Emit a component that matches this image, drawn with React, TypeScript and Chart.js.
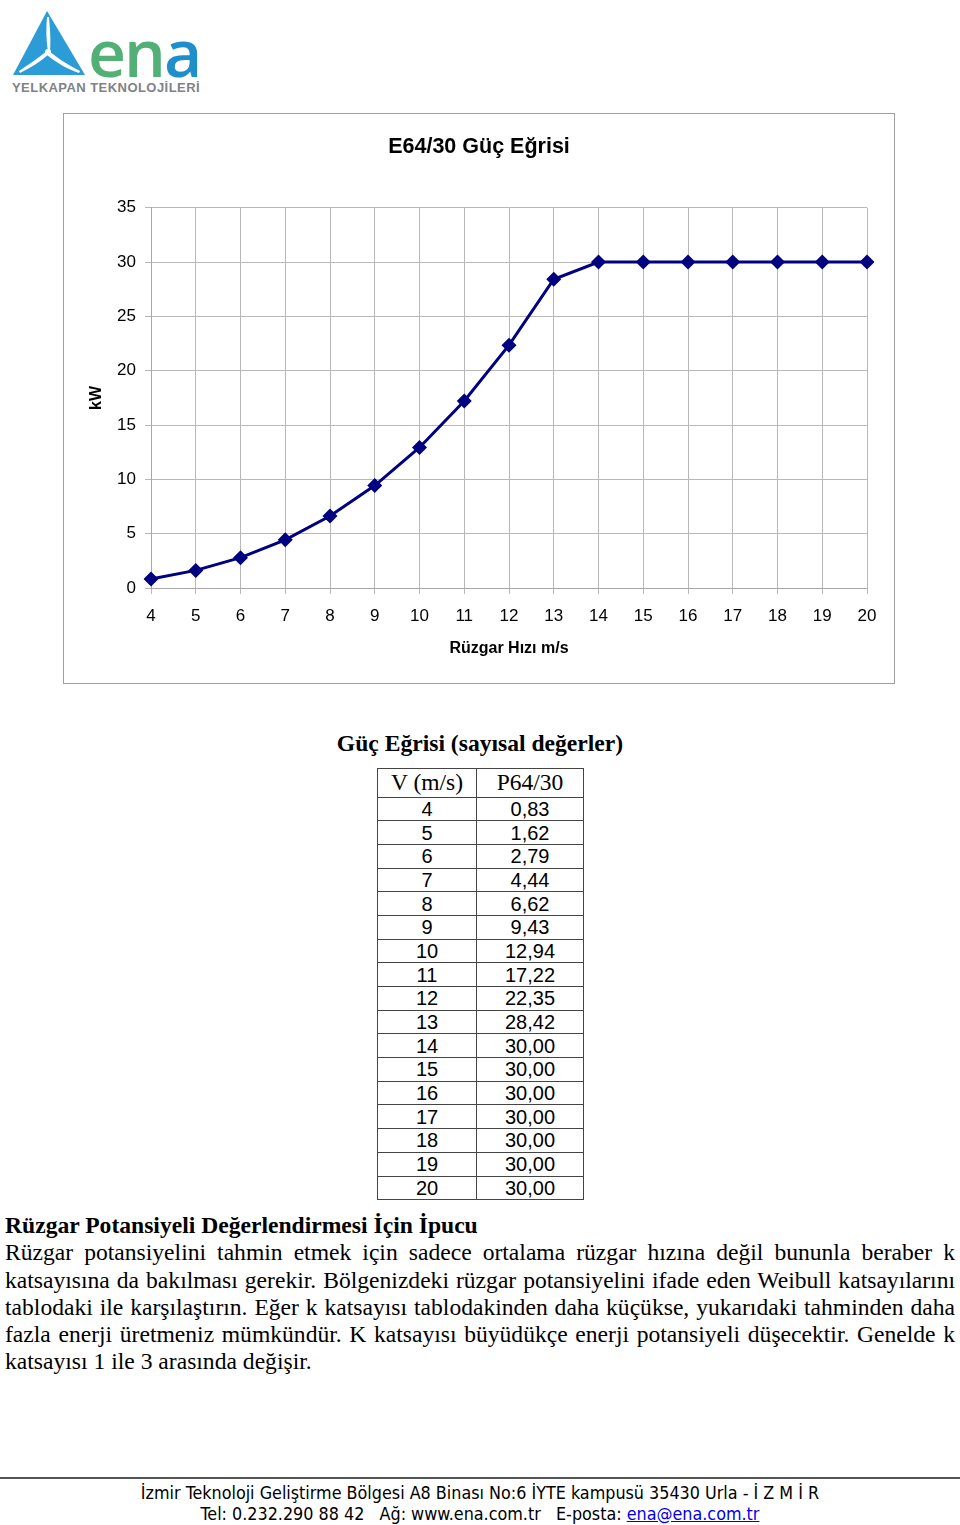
import React, { useEffect, useRef } from "react";
import { Chart, registerables } from "chart.js";

Chart.register(...registerables);

const chartTitle = "E64/30 Güç Eğrisi";
const xAxisTitle = "Rüzgar Hızı m/s";
const yAxisTitle = "kW";
const speeds = [4, 5, 6, 7, 8, 9, 10, 11, 12, 13, 14, 15, 16, 17, 18, 19, 20];
const power = [0.83, 1.62, 2.79, 4.44, 6.62, 9.43, 12.94, 17.22, 22.35, 28.42, 30, 30, 30, 30, 30, 30, 30];
const yMin = 0;
const yMax = 35;
const yStep = 5;

const tableTitle = "Güç Eğrisi (sayısal değerler)";
const tableHeaders = ["V (m/s)", "P64/30"];

const tipTitle = "Rüzgar Potansiyeli Değerlendirmesi İçin İpucu";
const tipText =
  "Rüzgar potansiyelini tahmin etmek için sadece ortalama rüzgar hızına değil bununla beraber k katsayısına da bakılması gerekir. Bölgenizdeki rüzgar potansiyelini ifade eden Weibull katsayılarını tablodaki ile karşılaştırın. Eğer k katsayısı tablodakinden daha küçükse, yukarıdaki tahminden daha fazla enerji üretmeniz mümkündür. K katsayısı büyüdükçe enerji potansiyeli düşecektir. Genelde k katsayısı 1 ile 3 arasında değişir.";

const footer1 = "İzmir Teknoloji Geliştirme Bölgesi A8 Binası No:6 İYTE kampusü 35430 Urla - İ Z M İ R";
const footer2a = "Tel: 0.232.290 88 42   Ağ: www.ena.com.tr   E-posta: ";
const footer2b = "ena@ena.com.tr";

const SANS = "'Liberation Sans', Arial, sans-serif";
const SERIF = "'Liberation Serif', 'Times New Roman', serif";

function PowerChart() {
  const ref = useRef<HTMLCanvasElement | null>(null);
  useEffect(() => {
    if (!ref.current) return;
    const tickFont = { family: SANS, size: 17 };
    const chart = new Chart(ref.current, {
      type: "line",
      data: {
        labels: speeds.map(String),
        datasets: [
          {
            data: power,
            borderColor: "#000080",
            backgroundColor: "#000080",
            borderWidth: 3,
            pointStyle: "rectRot",
            pointRadius: 7.5,
            pointHoverRadius: 7.5,
            pointBorderWidth: 0,
            tension: 0,
          },
        ],
      },
      options: {
        animation: false,
        responsive: false,
        maintainAspectRatio: false,
        layout: { padding: 0 },
        plugins: {
          legend: { display: false },
          tooltip: { enabled: false },
          title: {
            display: true,
            text: chartTitle,
            color: "#000",
            font: { family: SANS, size: 21.5, weight: "bold", lineHeight: 1.2 },
            padding: { top: 20, bottom: 48 },
          },
        },
        scales: {
          x: {
            grid: { color: "#b8b8b8", tickLength: 6, lineWidth: 1 },
            border: { color: "#a8a8a8" },
            ticks: { color: "#000", font: tickFont, padding: 12, maxRotation: 0, autoSkip: false },
            title: {
              display: true,
              text: xAxisTitle,
              color: "#000",
              font: { family: SANS, size: 16, weight: "bold", lineHeight: 1.2 },
              padding: { top: 0, bottom: 24 },
            },
            afterFit: (s: any) => {
              s.height = 94;
            },
          },
          y: {
            min: yMin,
            max: yMax,
            grid: { color: "#b8b8b8", tickLength: 6, lineWidth: 1 },
            border: { color: "#a8a8a8" },
            ticks: { stepSize: yStep, color: "#000", font: tickFont, padding: 9 },
            title: {
              display: true,
              text: yAxisTitle,
              color: "#000",
              font: { family: SANS, size: 16, weight: "bold", lineHeight: 1.2 },
              padding: { top: 23, bottom: 0 },
            },
            afterFit: (s: any) => {
              s.width = 87;
            },
          },
          yRight: {
            position: "right",
            display: true,
            min: yMin,
            max: yMax,
            grid: { display: false, drawTicks: false },
            border: { display: false },
            ticks: { display: false },
            afterFit: (s: any) => {
              s.width = 27;
            },
          },
        },
      },
    } as any);
    return () => chart.destroy();
  }, []);
  return <canvas ref={ref} width={830} height={568} style={{ width: 830, height: 568, display: "block" }} />;
}

function Logo() {
  return (
    <div style={{ position: "absolute", left: 0, top: 0, width: 260, height: 100 }}>
      <svg width={90} height={80} style={{ position: "absolute", left: 10, top: 8 }}>
        <polygon points="3,67 37,3 75,67" fill="#2b9cd6" />
        <path d="M38,44 C36,32 36,20 37,9 L39,9 C40,22 41,32 40,44 Z" fill="#fff" />
        <path d="M37,43 C28,50 18,57 9,63 L10,65 C20,60 30,54 39,46 Z" fill="#fff" />
        <path d="M39,43 C50,52 60,58 70,63 L69,65 C58,61 48,56 37,47 Z" fill="#fff" />
        <circle cx={38} cy={44} r={3} fill="#fff" />
      </svg>
      <div
        style={{
          position: "absolute",
          left: 88,
          top: 11,
          fontFamily: "'Open Sans', sans-serif",
          fontSize: 66,
          lineHeight: "80px",
          fontWeight: 600,
          letterSpacing: -2,
        }}
      >
        <span style={{ color: "#52b077" }}>en</span>
        <span style={{ color: "#1f8fcb" }}>a</span>
      </div>
      <div
        style={{
          position: "absolute",
          left: 12,
          top: 80,
          fontFamily: SANS,
          fontSize: 13,
          fontWeight: "bold",
          color: "#7f8286",
          letterSpacing: 0.45,
          whiteSpace: "nowrap",
        }}
      >
        YELKAPAN TEKNOLOJİLERİ
      </div>
    </div>
  );
}

export default function App() {
  const fmt = (v: number) => v.toFixed(2).replace(".", ",");
  const cell: React.CSSProperties = {
    border: "1.5px solid #444",
    padding: 0,
    textAlign: "center",
    height: 22.7,
    lineHeight: "22px",
    boxSizing: "border-box",
  };
  const rowStyle: React.CSSProperties = { height: 23.69 };
  return (
    <div style={{ position: "absolute", left: 0, top: 0, width: 960, height: 1525, background: "#fff" }}>
      <Logo />
      <div
        style={{
          position: "absolute",
          left: 63,
          top: 113,
          width: 832,
          height: 571,
          border: "1px solid #a0a0a0",
          boxSizing: "border-box",
        }}
      >
        <PowerChart />
      </div>

      <div
        style={{
          position: "absolute",
          left: 0,
          width: 960,
          top: 728,
          textAlign: "center",
          fontFamily: SERIF,
          fontWeight: "bold",
          fontSize: 23.6,
          lineHeight: "30px",
          color: "#000",
        }}
      >
        {tableTitle}
      </div>

      <table
        style={{
          position: "absolute",
          left: 377,
          top: 768,
          borderCollapse: "collapse",
          color: "#000",
        }}
      >
        <thead>
          <tr style={{ height: 28.5 }}>
            {tableHeaders.map((h) => (
              <th
                key={h}
                style={{
                  ...cell,
                  width: h === tableHeaders[0] ? 99 : 107,
                  height: 28.5,
                  lineHeight: "27px",
                  fontFamily: SERIF,
                  fontWeight: "normal",
                  fontSize: 23.5,
                }}
              >
                {h}
              </th>
            ))}
          </tr>
        </thead>
        <tbody>
          {speeds.map((s, i) => (
            <tr key={s} style={rowStyle}>
              <td style={{ ...cell, fontFamily: SANS, fontSize: 20 }}>{s}</td>
              <td style={{ ...cell, fontFamily: SANS, fontSize: 20 }}>{fmt(power[i])}</td>
            </tr>
          ))}
        </tbody>
      </table>

      <div
        style={{
          position: "absolute",
          left: 5,
          top: 1212,
          width: 950,
          fontFamily: SERIF,
          fontSize: 23.6,
          lineHeight: "27.3px",
          color: "#000",
          textAlign: "justify",
        }}
      >
        <div style={{ fontWeight: "bold" }}>{tipTitle}</div>
        <div>{tipText}</div>
      </div>

      <div style={{ position: "absolute", left: 0, top: 1477, width: 960, height: 2, background: "#555" }} />
      <div
        style={{
          position: "absolute",
          left: 0,
          top: 1482,
          width: 960,
          textAlign: "center",
          fontFamily: "'DejaVu Sans Condensed', 'DejaVu Sans', sans-serif",
          fontSize: 17.8,
          lineHeight: "21px",
          color: "#000",
          whiteSpace: "pre",
        }}
      >
        <div>{footer1}</div>
        <div>
          {footer2a}
          <span style={{ color: "#0000ee", textDecoration: "underline" }}>{footer2b}</span>
        </div>
      </div>
    </div>
  );
}
